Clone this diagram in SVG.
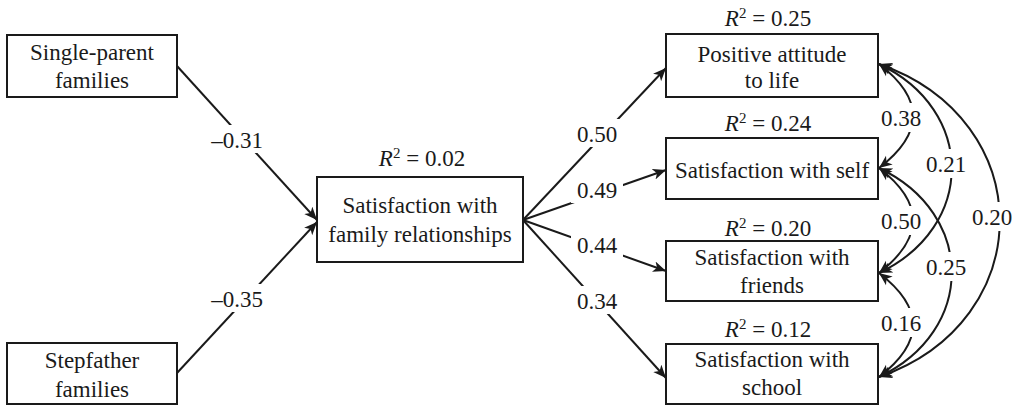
<svg xmlns="http://www.w3.org/2000/svg" width="1023" height="405" viewBox="0 0 1023 405">
<style>
.box{fill:#fff;stroke:#1a1a1a;stroke-width:2}
.t{font-family:"Liberation Serif","Times New Roman",serif;font-size:23px;fill:#1a1a1a;text-anchor:middle}
.c{fill:none;stroke:#1a1a1a;stroke-width:2}
.bg{fill:#fff}
</style>
<defs>
<marker id="ah" markerUnits="userSpaceOnUse" markerWidth="14" markerHeight="12" viewBox="0 0 14 12" refX="13" refY="6" orient="auto-start-reverse">
<path d="M0,0.5 L13,6 L0,11.5 L3.5,6 z" fill="#1a1a1a"/>
</marker>
</defs>
<g id="connectors">
<path class="c" d="M177,66 L317,220" marker-end="url(#ah)"/>
<path class="c" d="M177,373 L317,222" marker-end="url(#ah)"/>
<path class="c" d="M523,220 L666,68" marker-end="url(#ah)"/>
<path class="c" d="M523,220 L666,170" marker-end="url(#ah)"/>
<path class="c" d="M523,220 L666,271" marker-end="url(#ah)"/>
<path class="c" d="M523,220 L666,378" marker-end="url(#ah)"/>
<path class="c" d="M879,64 Q947,116 879,168" marker-start="url(#ah)" marker-end="url(#ah)"/>
<path class="c" d="M879,64 C976,110 976,227 879,273" marker-start="url(#ah)" marker-end="url(#ah)"/>
<path class="c" d="M879,64 C1040,120 1040,321 879,377" marker-start="url(#ah)" marker-end="url(#ah)"/>
<path class="c" d="M879,168 Q947,220 879,273" marker-start="url(#ah)" marker-end="url(#ah)"/>
<path class="c" d="M879,168 C976,214 976,331 879,377" marker-start="url(#ah)" marker-end="url(#ah)"/>
<path class="c" d="M879,273 Q947,325 879,377" marker-start="url(#ah)" marker-end="url(#ah)"/>
<g id="labels">
<rect class="bg" x="206" y="125" width="63" height="28"/>
<text class="t" x="237" y="148">–0.31</text>
<rect class="bg" x="206" y="284" width="63" height="28"/>
<text class="t" x="237" y="307">–0.35</text>
<rect class="bg" x="571" y="119" width="52" height="28"/>
<text class="t" x="597" y="142">0.50</text>
<rect class="bg" x="571" y="175" width="52" height="28"/>
<text class="t" x="597" y="198">0.49</text>
<rect class="bg" x="571" y="230" width="52" height="28"/>
<text class="t" x="597" y="253">0.44</text>
<rect class="bg" x="571" y="286" width="52" height="28"/>
<text class="t" x="597" y="309">0.34</text>
<rect class="bg" x="879" y="103" width="44" height="29"/>
<text class="t" x="901" y="126">0.38</text>
<rect class="bg" x="924" y="149" width="44" height="29"/>
<text class="t" x="946" y="172">0.21</text>
<rect class="bg" x="970" y="202" width="44" height="29"/>
<text class="t" x="992" y="225">0.20</text>
<rect class="bg" x="879" y="206" width="44" height="29"/>
<text class="t" x="901" y="229">0.50</text>
<rect class="bg" x="924" y="252" width="44" height="29"/>
<text class="t" x="946" y="275">0.25</text>
<rect class="bg" x="879" y="308" width="44" height="29"/>
<text class="t" x="901" y="331">0.16</text>
</g>
</g>
<g id="single-parent">
<rect class="box" x="7" y="35" width="170" height="62"/>
<text class="t" x="92" y="60">Single-parent</text>
<text class="t" x="92" y="88">families</text>
</g>
<g id="stepfather">
<rect class="box" x="7" y="343" width="170" height="61"/>
<text class="t" x="92" y="368">Stepfather</text>
<text class="t" x="92" y="397">families</text>
</g>
<g id="family">
<rect class="box" x="317" y="177" width="206" height="85"/>
<text class="t" x="420" y="213">Satisfaction with</text>
<text class="t" x="420" y="242">family relationships</text>
<text class="t" x="422" y="166"><tspan font-style="italic">R</tspan><tspan font-size="15" dy="-8">2</tspan><tspan dy="8"> = 0.02</tspan></text>
</g>
<g id="attitude">
<rect class="box" x="666" y="34" width="212" height="63"/>
<text class="t" x="772" y="62">Positive attitude</text>
<text class="t" x="772" y="88">to life</text>
<text class="t" x="768" y="26"><tspan font-style="italic">R</tspan><tspan font-size="15" dy="-8">2</tspan><tspan dy="8"> = 0.25</tspan></text>
</g>
<g id="self">
<rect class="box" x="666" y="138" width="212" height="61"/>
<text class="t" x="772" y="178">Satisfaction with self</text>
<text class="t" x="768" y="131"><tspan font-style="italic">R</tspan><tspan font-size="15" dy="-8">2</tspan><tspan dy="8"> = 0.24</tspan></text>
</g>
<g id="friends">
<rect class="box" x="666" y="241" width="212" height="60"/>
<text class="t" x="772" y="265">Satisfaction with</text>
<text class="t" x="772" y="293">friends</text>
<text class="t" x="768" y="236"><tspan font-style="italic">R</tspan><tspan font-size="15" dy="-8">2</tspan><tspan dy="8"> = 0.20</tspan></text>
</g>
<g id="school">
<rect class="box" x="666" y="344" width="212" height="60"/>
<text class="t" x="772" y="367">Satisfaction with</text>
<text class="t" x="772" y="395">school</text>
<text class="t" x="768" y="337"><tspan font-style="italic">R</tspan><tspan font-size="15" dy="-8">2</tspan><tspan dy="8"> = 0.12</tspan></text>
</g>
</svg>
